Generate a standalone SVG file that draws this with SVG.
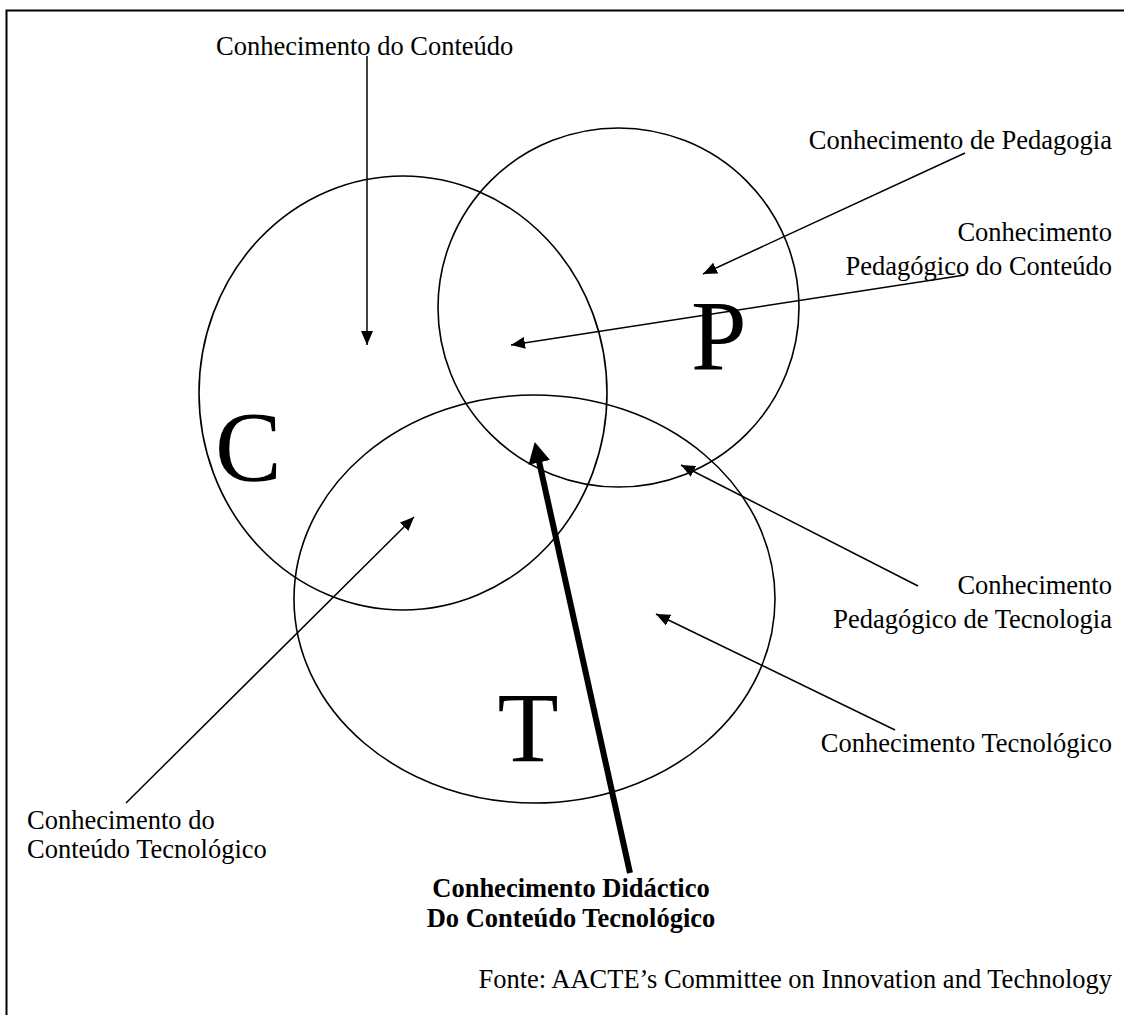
<svg xmlns="http://www.w3.org/2000/svg" width="1124" height="1015" viewBox="0 0 1124 1015">
  <style>
    .frame { fill: none; stroke: #000; stroke-width: 2; }
    .set { fill: none; stroke: #000; stroke-width: 1.6; }
    .link { fill: none; stroke: #000; stroke-width: 1.5; }
    .link-bold { fill: none; stroke: #000; stroke-width: 6; }
    .label { font-family: "Liberation Serif", "Times New Roman", serif; font-size: 26.5px; fill: #000; }
    .label-r { text-anchor: end; }
    .label-b { font-weight: bold; text-anchor: middle; }
    .letter { font-family: "Liberation Serif", "Times New Roman", serif; font-size: 100px; fill: #000; }
  </style>
  <defs>
    <marker id="head" markerUnits="userSpaceOnUse" markerWidth="14" markerHeight="12" refX="14" refY="6" orient="auto">
      <path d="M0,0 L14,6 L0,12 z" fill="#000"/>
    </marker>
    <marker id="head-bold" markerUnits="userSpaceOnUse" markerWidth="21" markerHeight="22" refX="5" refY="11" orient="auto">
      <path d="M0,0 L21,11 L0,22 z" fill="#000"/>
    </marker>
  </defs>

  <rect width="1124" height="1015" fill="#fff"/>
  <path class="frame" d="M6.5,1015 V10.5 H1124"/>

  <!-- the three knowledge domains -->
  <g id="content">
    <ellipse class="set" cx="403" cy="393" rx="204" ry="217"/>
    <text class="letter" x="215" y="480">C</text>
  </g>
  <g id="pedagogy">
    <ellipse class="set" cx="618.5" cy="307.5" rx="180.5" ry="179.5"/>
    <text class="letter" x="691" y="369">P</text>
  </g>
  <g id="technology">
    <ellipse class="set" cx="534.5" cy="599" rx="240.5" ry="204"/>
    <text class="letter" x="528" y="761" text-anchor="middle">T</text>
  </g>

  <!-- labels -->
  <g id="label-ck">
    <text class="label" x="216" y="55">Conhecimento do Conteúdo</text>
  </g>
  <g id="label-pk">
    <text class="label label-r" x="1112" y="149">Conhecimento de Pedagogia</text>
  </g>
  <g id="label-pck">
    <text class="label label-r" x="1112" y="241">Conhecimento</text>
    <text class="label label-r" x="1112" y="275">Pedagógico do Conteúdo</text>
  </g>
  <g id="label-tpk">
    <text class="label label-r" x="1112" y="594">Conhecimento</text>
    <text class="label label-r" x="1112" y="628">Pedagógico de Tecnologia</text>
  </g>
  <g id="label-tk">
    <text class="label label-r" x="1112" y="752">Conhecimento Tecnológico</text>
  </g>
  <g id="label-tck">
    <text class="label" x="27" y="829">Conhecimento do</text>
    <text class="label" x="27" y="858">Conteúdo Tecnológico</text>
  </g>
  <g id="label-tpack">
    <text class="label label-b" x="571" y="897">Conhecimento Didáctico</text>
    <text class="label label-b" x="571" y="927">Do Conteúdo Tecnológico</text>
  </g>
  <g id="source">
    <text class="label label-r" x="1112" y="988">Fonte: AACTE’s Committee on Innovation and Technology</text>
  </g>

  <!-- pointers from labels to regions -->
  <g id="connectors">
    <line class="link" x1="367" y1="56" x2="367" y2="345" marker-end="url(#head)"/>
    <line class="link" x1="965" y1="153" x2="703" y2="274" marker-end="url(#head)"/>
    <line class="link" x1="965" y1="275" x2="511" y2="345" marker-end="url(#head)"/>
    <line class="link" x1="918" y1="586" x2="681" y2="465" marker-end="url(#head)"/>
    <line class="link" x1="895" y1="730" x2="656" y2="614" marker-end="url(#head)"/>
    <line class="link" x1="126" y1="803" x2="414" y2="517" marker-end="url(#head)"/>
    <line class="link-bold" x1="630" y1="873" x2="538.2" y2="457.6" marker-end="url(#head-bold)"/>
  </g>
</svg>
